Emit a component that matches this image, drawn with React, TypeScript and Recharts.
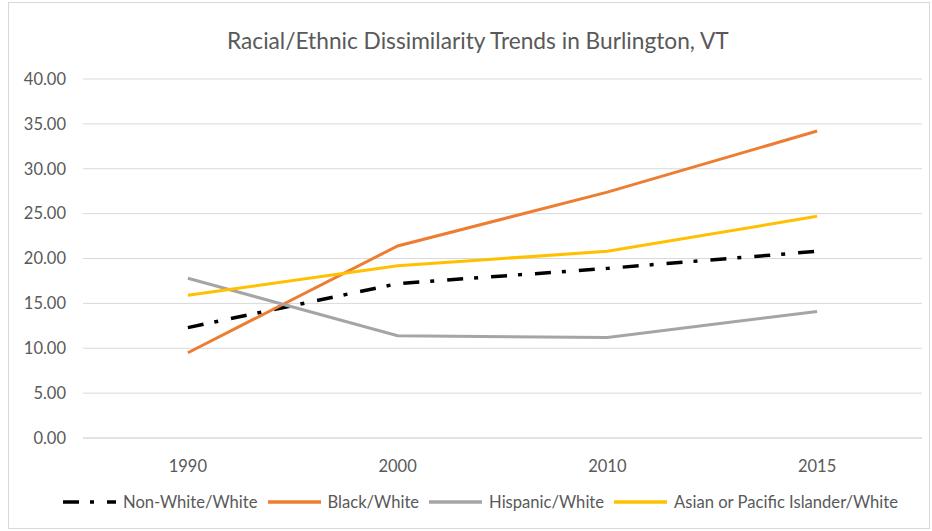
import React from 'react';
import { LineChart, Line, XAxis, YAxis, CartesianGrid, Legend } from 'recharts';

const years = ['1990', '2000', '2010', '2015'];
const nonWhite = [12.3, 17.2, 18.9, 20.8];
const black = [9.5, 21.4, 27.4, 34.2];
const hispanic = [17.8, 11.4, 11.2, 14.1];
const asian = [15.9, 19.2, 20.8, 24.7];
const yTicks = [0, 5, 10, 15, 20, 25, 30, 35, 40];

const seriesList = [
  { key: 'nonWhite', name: 'Non-White/White', color: '#000000', dash: '16 11 4 13' },
  { key: 'black', name: 'Black/White', color: '#ED7D31', dash: undefined },
  { key: 'hispanic', name: 'Hispanic/White', color: '#A5A5A5', dash: undefined },
  { key: 'asian', name: 'Asian or Pacific Islander/White', color: '#FFC000', dash: undefined },
];

const data = years.map((year, i) => ({
  year,
  nonWhite: nonWhite[i],
  black: black[i],
  hispanic: hispanic[i],
  asian: asian[i],
}));

const FONT = 'Lato, "Noto Sans", sans-serif';
const TEXT = '#595959';

const renderLegend = () => (
  <div style={{ display: 'flex', justifyContent: 'flex-start', alignItems: 'center', height: 22, paddingLeft: 63, fontFamily: FONT, fontSize: 16.6, color: TEXT }}>
    {seriesList.map((s) => (
      <div key={s.key} style={{ display: 'flex', alignItems: 'center', marginRight: 10 }}>
        <svg width={53} height={10} style={{ marginRight: 7 }}>
          <line x1={0} y1={5} x2={53} y2={5} stroke={s.color} strokeWidth={3.5} strokeDasharray={s.dash} />
        </svg>
        <span>{s.name}</span>
      </div>
    ))}
  </div>
);

export default function App() {
  return (
    <div style={{ position: 'absolute', left: 0, top: 0, width: 932, height: 531, background: '#fff' }}>
      <div style={{ position: 'absolute', left: 8, top: 2, width: 922, height: 527, border: '1px solid #d9d9d9', boxSizing: 'border-box' }} />
      <div style={{ position: 'absolute', left: 227, top: 27, whiteSpace: 'nowrap', fontFamily: FONT, fontSize: 22.7, color: TEXT }}>
        Racial/Ethnic Dissimilarity Trends in Burlington, VT
      </div>
      <LineChart width={932} height={531} data={data} margin={{ top: 79, right: 10, left: 0, bottom: 31 }}>
        <CartesianGrid vertical={false} stroke="#d9d9d9" strokeWidth={1} />
        <XAxis
          dataKey="year"
          scale="band"
          axisLine={{ stroke: '#d9d9d9' }}
          tickLine={false}
          tick={{ fill: TEXT, fontSize: 16.5, fontFamily: FONT }}
          tickMargin={16}
          height={40}
        />
        <YAxis
          domain={[0, 40]}
          ticks={yTicks}
          tickFormatter={(v: number) => v.toFixed(2)}
          axisLine={false}
          tickLine={false}
          tickSize={0}
          tickMargin={17}
          width={83}
          tick={{ fill: TEXT, fontSize: 16.5, fontFamily: FONT }}
        />
        <Legend verticalAlign="bottom" content={renderLegend} wrapperStyle={{ bottom: 18 }} />
        {seriesList.map((s) => (
          <Line
            key={s.key}
            dataKey={s.key}
            name={s.name}
            stroke={s.color}
            strokeWidth={s.key === 'nonWhite' ? 3.5 : 3}
            strokeDasharray={s.dash}
            dot={false}
            isAnimationActive={false}
          />
        ))}
      </LineChart>
    </div>
  );
}
